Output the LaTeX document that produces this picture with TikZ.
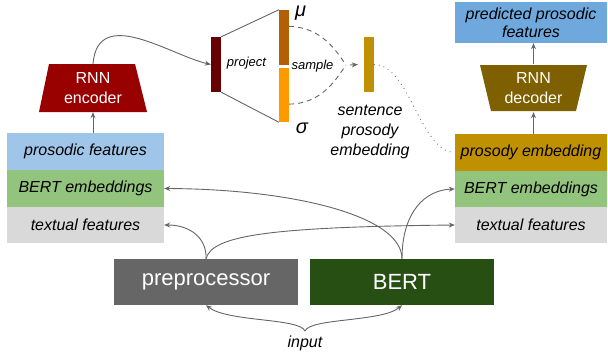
\documentclass[tikz,border=0pt]{standalone}
\usepackage{fontspec}
\setmainfont{Liberation Sans}
\usetikzlibrary{arrows.meta,calc}
\definecolor{cPros}{HTML}{9FC5E8}
\definecolor{cBert}{HTML}{93C47D}
\definecolor{cText}{HTML}{D9D9D9}
\definecolor{cPred}{HTML}{6FA8DC}
\definecolor{cProsEmb}{HTML}{BF9000}
\definecolor{cPre}{HTML}{666666}
\definecolor{cBertBox}{HTML}{274E13}
\definecolor{cEnc}{HTML}{990000}
\definecolor{cDec}{HTML}{7F6000}
\definecolor{cProj}{HTML}{660000}
\definecolor{cMu}{HTML}{B45F06}
\definecolor{cSig}{HTML}{FF9900}
\definecolor{cSent}{HTML}{BF9000}
\definecolor{cLine}{HTML}{666666}
\begin{document}
\begin{tikzpicture}[x=1pt,y=-1pt,
  feat/.style={rectangle, inner sep=0pt, minimum width=157pt, minimum height=37pt,
    font=\fontsize{16}{19}\selectfont\itshape, align=center},
  bigbox/.style={rectangle, inner sep=0pt, minimum width=184pt, minimum height=46pt,
    text=white, font=\fontsize{22}{26}\selectfont},
  rnnlabel/.style={rectangle, inner sep=0pt, minimum width=100pt, minimum height=48pt,
    text=white, font=\fontsize{16}{20}\selectfont, align=center},
  barbox/.style={rectangle, inner sep=0pt, minimum width=10pt},
  smalllabel/.style={inner sep=0pt, font=\fontsize{13}{15}\selectfont\itshape},
  greek/.style={inner sep=0pt, font=\fontsize{20}{24}\selectfont\itshape},
  arr/.style={draw=cLine, line width=0.9pt, -{Stealth[length=6pt,width=5pt]}},
  plain/.style={draw=cLine, line width=0.9pt},
  dashline/.style={draw=cLine, line width=0.9pt, dash pattern=on 5pt off 4pt},
  dotline/.style={draw=cLine, line width=1.2pt, line cap=round, dash pattern=on 0pt off 5pt}
]
\useasboundingbox (0,0) rectangle (608,356);

% left stack
\node[feat, fill=cPros] (pros) at (85.5,151.5) {prosodic features};
\node[feat, fill=cBert] (bertL) at (85.5,188.5) {BERT embeddings};
\node[feat, fill=cText, minimum height=36pt] (textL) at (85.5,225) {textual features};

% right stack
\node[feat, fill=cPred, minimum width=152pt, minimum height=41pt] (pred) at (531,22.5) {predicted prosodic\\[-1pt]features};
\node[feat, fill=cProsEmb, minimum width=152pt] (prosR) at (531,152.5) {prosody embedding};
\node[feat, fill=cBert, minimum width=152pt, minimum height=36pt] (bertR) at (531,189) {BERT embeddings};
\node[feat, fill=cText, minimum width=152pt, minimum height=36pt] (textR) at (531,225) {textual features};

% bottom boxes
\node[bigbox, fill=cPre] (pre) at (206,282) {preprocessor};
\node[bigbox, fill=cBertBox] (bert) at (402,282) {BERT};

% encoder / decoder trapezoids
\fill[cEnc] (49,64) -- (135,64) -- (147,112) -- (39,112) -- cycle;
\node[rnnlabel] (enc) at (93,88) {RNN\\encoder};
\fill[cDec] (480,65) -- (587,65) -- (576,111) -- (491,111) -- cycle;
\node[rnnlabel] (dec) at (533.5,88) {RNN\\decoder};

% bars
\node[barbox, fill=cProj, minimum height=55pt] (proj) at (216,64.5) {};
\node[barbox, fill=cMu, minimum height=55pt] (mu) at (284,37.5) {};
\node[barbox, fill=cSig, minimum height=54pt] (sig) at (284,95) {};
\node[barbox, fill=cSent, minimum height=55pt] (sent) at (369,64.5) {};

\node[smalllabel] (projlab) at (246.5,63) {project};
\node[smalllabel] (samplab) at (312.5,66) {sample};
\node[greek] (mulab) at (300.5,13) {μ};
\node[greek] (siglab) at (302,128) {σ};
\node[feat, minimum width=0pt, minimum height=0pt, font=\fontsize{16}{20}\selectfont\itshape] (sentlab) at (370,132) {sentence\\prosody\\embedding};
\node[feat, minimum width=0pt, minimum height=0pt] (inp) at (305,343) {input};

% projection lines
\draw[plain] (proj.north east) -- (mu.north west);
\draw[plain] (proj.south east) -- (sig.south west);

% sample curves
\coordinate (meet) at (346,65);
\draw[dashline] ($(mu.north east)!0.3!(mu.south east)$) .. controls (322,27) and (337,52) .. (meet);
\draw[dashline] ($(sig.north east)!0.667!(sig.south east)$) .. controls (322,104) and (337,78) .. (meet);
\draw[arr, dashline, -{Stealth[length=6pt,width=5pt]}] (meet) ++(4,0) -- ($(sent.west)+(-6,0)$);

% encoder path
\draw[arr] (enc.south |- pros.north) -- (enc.south);
\draw[arr] (enc.north) .. controls (98,5) and (170,55) .. (proj.west);

% decoder path
\draw[arr] (dec.south |- prosR.north) -- (dec.south);
\draw[arr] (dec.north) -- (dec.north |- pred.south);

% dotted
\draw[dotline] (sent.east) .. controls (410,65) and (420,152) .. (prosR.west);

% bottom connectors
\draw[arr] (pre.north) .. controls (207,238) and (190,225) .. (textL.east);
\draw[arr] (pre.north) .. controls (212,236) and (265,227) .. (textR.west);
\draw[arr] (bert.north) .. controls (402,215) and (290,189) .. (bertL.east);
\draw[arr] (bert.north) .. controls (402,212) and (425,190) .. (bertR.west);

% input brace
\coordinate (cusp) at (305,331);
\draw[arr] (cusp) .. controls (300,318) and (228,322) .. (pre.south);
\draw[arr] (cusp) .. controls (310,318) and (382,322) .. (bert.south);
\end{tikzpicture}
\end{document}
